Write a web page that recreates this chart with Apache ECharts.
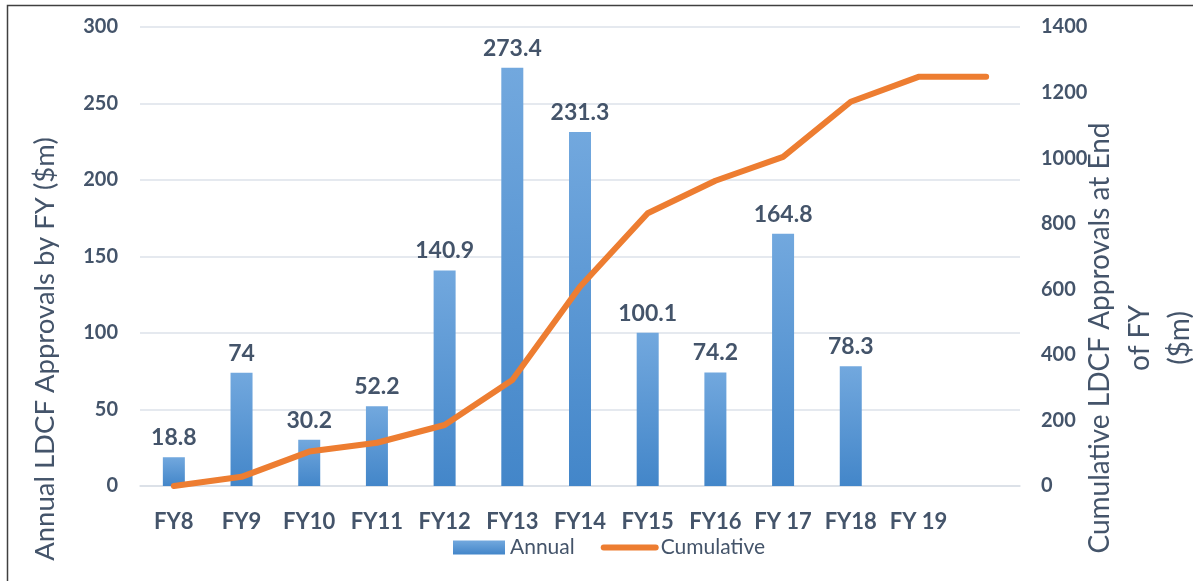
<!DOCTYPE html>
<html>
<head>
<meta charset="utf-8">
<script src="https://cdn.jsdelivr.net/npm/echarts@6/dist/echarts.min.js"></script>
<style>
  html, body { margin: 0; padding: 0; background: #fff; }
  #chart { width: 1193px; height: 581px; }
</style>
</head>
<body>
<div id="chart"></div>
<script>
// categories (last one is an empty slot the line runs into)
const categories = ["FY8", "FY9", "FY10", "FY11", "FY12", "FY13", "FY14", "FY15", "FY16", "FY 17", "FY18", "FY 19", ""];
const annual = [18.8, 74, 30.2, 52.2, 140.9, 273.4, 231.3, 100.1, 74.2, 164.8, 78.3, null, null];
const cumulative = [0, 28, 105, 132, 186, 323, 608, 832, 931, 1004, 1172, 1248, 1248];

const textColor = "#44546a";
const font = "Lato";

const myChart = echarts.init(document.getElementById("chart"));

const option = {
  animation: false,
  textStyle: { fontFamily: font },
  grid: { left: 140, right: 173, top: 27, bottom: 95 },
  legend: {
    left: 448,
    top: 532,
    itemWidth: 52,
    itemHeight: 14,
    itemGap: 26,
    textStyle: { color: textColor, fontSize: 21, fontFamily: font },
    data: [
      { name: "Annual", icon: "rect" },
      {
        name: "Cumulative",
        itemStyle: { color: "rgba(0,0,0,0)", borderWidth: 0 },
        lineStyle: { width: 6, cap: "round" }
      }
    ]
  },
  xAxis: {
    type: "category",
    data: categories,
    axisLine: { lineStyle: { color: "#d9dee6", width: 1.5 } },
    axisTick: { show: false },
    axisLabel: {
      color: textColor,
      fontSize: 22,
      fontWeight: "bold",
      margin: 25,
      interval: 0
    }
  },
  yAxis: [
    {
      type: "value",
      min: 0,
      max: 300,
      interval: 50,
      axisLine: { show: false },
      axisTick: { show: false },
      splitLine: { lineStyle: { color: "#dde2ea", width: 1.5 } },
      axisLabel: { color: textColor, fontSize: 20, fontWeight: "bold", margin: 22 }
    },
    {
      type: "value",
      min: 0,
      max: 1400,
      interval: 200,
      axisLine: { show: false },
      axisTick: { show: false },
      splitLine: { show: false },
      axisLabel: {
        color: textColor,
        fontSize: 20,
        fontWeight: "bold",
        margin: 21,
        formatter: function (v) { return String(v); }
      }
    }
  ],
  graphic: [
    {
      type: "rect",
      shape: { x: 7.5, y: 5.5, width: 1400, height: 800 },
      style: { fill: null, stroke: "#404040", lineWidth: 1.5 },
      silent: true
    },
    {
      type: "text",
      x: 45,
      y: 349,
      rotation: Math.PI / 2,
      style: {
        text: "Annual LDCF Approvals by FY ($m)",
        fill: textColor,
        font: "27.5px Lato",
        align: "center",
        verticalAlign: "middle"
      }
    },
    {
      type: "text",
      x: 1140,
      y: 338,
      rotation: Math.PI / 2,
      style: {
        text: "Cumulative LDCF Approvals at End\nof FY\n($m)",
        fill: textColor,
        font: "28px Lato",
        lineHeight: 40,
        align: "center",
        verticalAlign: "middle"
      }
    }
  ],
  series: [
    {
      name: "Annual",
      type: "bar",
      data: annual,
      barWidth: 22,
      itemStyle: {
        color: new echarts.graphic.LinearGradient(0, 0, 0, 1, [
          { offset: 0, color: "#72a8de" },
          { offset: 1, color: "#4386c9" }
        ])
      },
      label: {
        show: true,
        position: "top",
        distance: 8,
        color: textColor,
        fontSize: 23,
        fontWeight: "bold",
        fontFamily: font
      }
    },
    {
      name: "Cumulative",
      type: "line",
      yAxisIndex: 1,
      data: cumulative,
      symbol: "none",
      itemStyle: { color: "#ed7d31" },
      lineStyle: { color: "#ed7d31", width: 6, cap: "round", join: "round" }
    }
  ]
};

myChart.setOption(option);
</script>
</body>
</html>
